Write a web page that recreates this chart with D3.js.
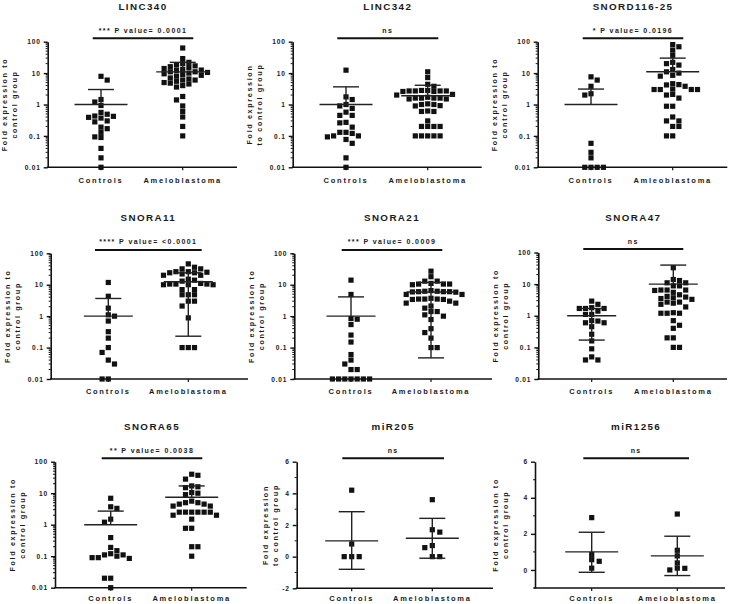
<!DOCTYPE html>
<html><head><meta charset="utf-8">
<script src="https://cdn.jsdelivr.net/npm/d3@7"></script>
<style>
body{margin:0;background:#fff}
text{font-family:"Liberation Sans",Arial,sans-serif;font-weight:bold;fill:#1a1a1a}
</style>
</head><body>
<svg id="c" width="736" height="604"></svg>
<script>
// ---------- DATA ----------
const CATS = ["Controls", "Ameloblastoma"];
const CATS_TYPO = ["Controls", "Amleoblastoma"];
const TITLES = ["LINC340","LINC342","SNORD116-25","SNORA11","SNORA21","SNORA47","SNORA65","miR205","miR1256"];
const PTEXT = ["*** P value= 0.0001","ns","* P value= 0.0196","**** P value= <0.0001","*** P value= 0.0009","ns","** P value= 0.0038","ns","ns"];
const LOG_TICKS = [0.01, 0.1, 1, 10, 100];
const LOG_TICK_LABELS = ["0.01","0.1","1","10","100"];
const MIR205_TICKS = [-2, 0, 2, 4, 6];
const MIR1256_TICKS = [0, 2, 4, 6];

const LINC340_ctrl = [7.9,6.0,1.44,1.2,0.93,0.56,0.49,0.43,0.42,0.39,0.37,0.30,0.28,0.19,0.17,0.13,0.093,0.089,0.04,0.02,0.01];
const LINC340_amelo = [63,29,22,20,18,17,16,15,14,13,12.5,12,11,11,10.5,10,9.5,9,8.5,8,7,6.5,6,6,5.5,5,4.8,4.5,4,3.6,1.8,1.4,0.9,0.6,0.4,0.2,0.1];
const LINC342_ctrl = [12.4,1.75,1.44,1.0,0.9,0.75,0.57,0.45,0.45,0.27,0.26,0.19,0.13,0.13,0.12,0.1,0.093,0.1,0.077,0.058,0.02,0.01];
const LINC342_amelo = [11,7.2,4.4,3.8,2.8,2.7,2.7,2.6,2.7,2.8,2.6,2.7,2.1,2.0,1.6,1.7,1.5,1.6,1.6,1.5,1.6,1.0,1.05,0.9,0.92,1.0,0.6,0.6,0.62,0.3,0.2,0.2,0.2,0.2,0.1,0.1,0.1,0.1,0.1];
const SNORD116_ctrl = [7.6,6.0,3.8,2.2,2.0,0.058,0.03,0.02,0.01,0.01,0.01,0.01];
const SNORD116_amelo = [81,69,54,37,22,20,18,13,11,10,8,8.5,4.3,3.8,4.2,4.6,3.0,3.0,3.0,3.0,3.1,2.1,2.0,1.6,0.88,0.88,0.4,0.3,0.3,0.2,0.2,0.1,0.1];
const SNORA11_ctrl = [11.8,4.3,1.8,1.1,1.0,0.7,0.32,0.2,0.1,0.07,0.04,0.03,0.01,0.01];
const SNORA11_amelo = [46,36,32,32,26,26,25,24,24,22,20,20,15,14,13,11,10.5,10.5,10,10,10.5,10,7,7,4.8,4.8,4.8,3.0,3.0,2.1,0.88,0.1,0.1,0.1];
const SNORA21_ctrl = [14,4.9,0.84,0.8,0.54,0.25,0.15,0.06,0.04,0.03,0.02,0.02,0.01,0.01,0.01,0.01,0.01,0.01,0.01];
const SNORA21_amelo = [27,18,13,13,10.5,10,10.5,11,10.5,6.2,6,5.8,6,5.9,6,6.2,6.5,4.9,4.9,3.5,3.4,3.0,3.4,3.5,3.5,3.7,2.6,2.6,1.8,2.1,1.4,1.4,1.0,1.1,0.78,0.4,0.3,0.2,0.1,0.1];
const SNORA47_ctrl = [2.9,2.3,1.8,1.7,1.7,1.7,1.4,1.1,1.1,0.7,0.68,0.6,0.6,0.45,0.26,0.16,0.09,0.05,0.04,0.04];
const SNORA47_amelo = [33,14,13,11,11,8.8,8.8,6.5,6.5,6.5,6.3,5.5,4.6,4.1,3.9,3.5,3.7,3.3,2.7,2.3,2.5,2.7,1.9,1.2,1.2,1.2,1.25,0.7,0.5,0.4,0.2,0.2,0.1,0.1];
const SNORA65_ctrl = [6.9,3.7,3.3,1.5,1.2,0.39,0.19,0.15,0.12,0.11,0.09,0.085,0.09,0.1,0.11,0.02,0.02,0.01];
const SNORA65_amelo = [37,40,28,15,17,16,10.5,10,9,5.6,5,4.5,5,4.5,3.9,3.9,2.5,2.5,2.5,2.5,2.5,2.5,2.0,2.0,1.5,0.77,0.77,0.2,0.2,0.1];
const MIR205_ctrl = [4.2,0.8,0,0,0];
const MIR205_amelo = [3.6,1.55,1.7,0.7,0.57,0,0];
const MIR1256_ctrl = [2.9,0.85,0.48,0.57,0.1];
const MIR1256_amelo = [3.1,1.09,0.78,0.39,0.09,0.0,0.1];

// mean / SD (upper, lower): [controls, ameloblastoma]; null = not drawn
const MEANS = [[1,10.9],[1,1.9],[1,11],[1,12.4],[1,5.9],[1,10],[1,7.4],[1.0,1.16],[1.0,0.78]];
const SD_HI = [[3.0,22],[3.65,4.1],[3.1,30],[3.65,24],[4.1,11.8],[1.7,40],[2.7,17],[2.84,2.42],[2.09,1.87]];
const SD_LO = [[null,null],[null,null],[null,null],[null,0.23],[null,0.047],[0.17,null],[null,null],[-0.8,-0.1],[-0.13,-0.31]];

const GROUPS = [
  [LINC340_ctrl, LINC340_amelo],[LINC342_ctrl, LINC342_amelo],[SNORD116_ctrl, SNORD116_amelo],
  [SNORA11_ctrl, SNORA11_amelo],[SNORA21_ctrl, SNORA21_amelo],[SNORA47_ctrl, SNORA47_amelo],
  [SNORA65_ctrl, SNORA65_amelo],[MIR205_ctrl, MIR205_amelo],[MIR1256_ctrl, MIR1256_amelo]
];

// ---------- LAYOUT ----------
const LAYOUT = [
 {ax:47.7, top:41.7, bot:167.3, xEnd:237, c:[101,182.7], bar:[92.7,193.3], lab:15.8},
 {ax:292.7, top:41.7, bot:167.3, xEnd:481.7, c:[346,427.7], bar:[337.3,438.3], lab:15.8},
 {ax:537.7, top:41.7, bot:167.3, xEnd:727.3, c:[591,672.7], bar:[582.7,683.3], lab:15.8},
 {ax:50.7, top:253.3, bot:379, xEnd:248, c:[108.3,188.3], bar:[95,201.7], lab:15.3},
 {ax:294.3, top:253.3, bot:379, xEnd:492, c:[351,431], bar:[341.7,442.3], lab:15.3},
 {ax:538.3, top:252.5, bot:379, xEnd:727, c:[591.7,673.3], bar:[583.3,683.3], lab:15.3},
 {ax:55, top:461.7, bot:587.7, xEnd:246.7, c:[110.7,191.7], bar:[101.7,202.3], lab:13.2},
 {ax:296.7, top:461.7, bot:588.3, xEnd:493, c:[351.7,432.3], bar:[342.3,444], lab:12.6},
 {ax:535, top:461.7, bot:588, xEnd:725, c:[591.7,677.3], bar:[583.3,689], lab:12.8}
];
const YLAB_A = ["Fold expression to","control group"];
const YLAB_B = ["Fold expression","to control group"];

const svg = d3.select("#c");
const INK = "#111";

function swarm(vals, y, d, h){
  const pts = vals.map(v => ({v, y:y(v)})).sort((a,b)=>a.y-b.y);
  const placed = [];
  let toggle = 1;
  pts.forEach(p=>{
    const free = o => placed.every(q => Math.abs(q.dx-o) >= d-0.01 || Math.abs(q.y-p.y) >= h);
    let dx = null;
    for(let k=0;k<40 && dx===null;k++){
      if(k===0){ if(free(0)) dx=0; continue; }
      const a = toggle*k*d, b = -toggle*k*d;
      if(free(a)) dx=a; else if(free(b)) dx=b;
    }
    if(dx!==0) toggle = -toggle;
    p.dx = dx;
    placed.push(p);
  });
  return placed;
}

TITLES.forEach((title,i)=>{
  const L = LAYOUT[i];
  const g = svg.append("g");
  const isLog = i < 7;
  let y;
  if(isLog) y = d3.scaleLog().domain([0.01,100]).range([L.bot,L.top]);
  else if(i===7) y = d3.scaleLinear().domain([-2,6]).range([L.bot,L.top]);
  else y = d3.scaleLinear().domain([-1,6]).range([L.bot,L.top]);
  const cats = i===2 ? CATS_TYPO : CATS;
  const x = d3.scalePoint().domain(cats).range(L.c);

  // y axis
  const ticks = isLog ? LOG_TICKS : (i===7 ? MIR205_TICKS : MIR1256_TICKS);
  const yAxis = d3.axisLeft(y).tickValues(ticks).tickSize(4).tickSizeOuter(0).tickPadding(3)
     .tickFormat((d,k)=> isLog ? LOG_TICK_LABELS[k] : String(d));
  const ya = g.append("g").attr("transform",`translate(${L.ax},0)`).call(yAxis);
  ya.select(".domain").attr("stroke",INK).attr("stroke-width",1.6);
  ya.selectAll(".tick line").attr("stroke",INK).attr("stroke-width",1.4);
  ya.selectAll(".tick text").style("font-size","6.6px").style("letter-spacing","0.8px")
     .attr("fill","#1a1a1a").style("font-family","'Liberation Sans',Arial,sans-serif").style("font-weight","bold");
  // minor ticks
  let minor = [];
  if(isLog){ [0.01,0.1,1,10].forEach(b=>{ for(let m=2;m<=9;m++) minor.push(b*m); }); }
  else { const dm = y.domain(); for(let v=Math.ceil(dm[0]); v<=dm[1]; v++) if(((v%2)+2)%2===1) minor.push(v); }
  g.append("g").selectAll("line").data(minor).join("line")
    .attr("x1",L.ax-2).attr("x2",L.ax).attr("y1",d=>y(d)).attr("y2",d=>y(d))
    .attr("stroke",INK).attr("stroke-width",1);

  // x axis
  g.append("line").attr("x1",L.ax-0.8).attr("x2",L.xEnd).attr("y1",L.bot).attr("y2",L.bot)
    .attr("stroke",INK).attr("stroke-width",1.6);
  g.append("g").selectAll("line").data(cats).join("line")
    .attr("x1",d=>x(d)).attr("x2",d=>x(d)).attr("y1",L.bot).attr("y2",L.bot+3)
    .attr("stroke",INK).attr("stroke-width",1.2);
  g.append("g").selectAll("text").data(cats).join("text")
    .attr("x",d=>x(d)).attr("y",L.bot+L.lab).attr("text-anchor","middle")
    .style("font-size","7.5px").style("letter-spacing","1.75px").text(d=>d);

  // y label
  const ylab = (i===1 || i===7) ? YLAB_B : YLAB_A;
  const yoff = i===7 ? [-31.7,-21.7] : (i===8 ? [-40,-30] : [-43,-33]);
  const cy = (L.top+L.bot)/2;
  ylab.forEach((t,k)=>{
    g.append("text").attr("transform",`translate(${L.ax+yoff[k]},${cy}) rotate(-90)`)
     .attr("text-anchor","middle").attr("dy","0.35em")
     .style("font-size","7.2px").style("letter-spacing","1.65px").text(t);
  });

  // title
  const mid = (L.bar[0]+L.bar[1])/2;
  g.append("text").attr("x",mid).attr("y",L.top-32).attr("text-anchor","middle")
    .style("font-size","9.8px").style("letter-spacing","1.4px").text(title);
  // significance
  g.append("line").attr("x1",L.bar[0]).attr("x2",L.bar[1]).attr("y1",L.top-3.4).attr("y2",L.top-3.4)
    .attr("stroke",INK).attr("stroke-width",2);
  g.append("text").attr("x",mid).attr("y",L.top-9).attr("text-anchor","middle")
    .style("font-size","7px").style("letter-spacing","1.4px").text(PTEXT[i]);

  // points
  const d = i>=7 ? 7.5 : 6.2;
  GROUPS[i].forEach((vals,gi)=>{
    const cx = x(cats[gi]);
    const pts = swarm(vals, y, d, 5);
    g.append("g").selectAll("rect").data(pts).join("rect")
      .attr("x",p=>cx+p.dx-2.6).attr("y",p=>p.y-2.6).attr("width",5.2).attr("height",5.2)
      .attr("fill",INK);
    // error bars
    const m = MEANS[i][gi], hi = SD_HI[i][gi], lo = SD_LO[i][gi];
    const eb = g.append("g").attr("stroke","#222").attr("stroke-width",1.4);
    const hw = i>=3 && i<6 ? 24.5 : 26.5;
    eb.append("line").attr("x1",cx-hw).attr("x2",cx+hw).attr("y1",y(m)).attr("y2",y(m));
    const yTop = y(hi), yBot = lo===null ? y(m) : y(lo);
    eb.append("line").attr("x1",cx).attr("x2",cx).attr("y1",yTop).attr("y2",yBot);
    eb.append("line").attr("x1",cx-13).attr("x2",cx+13).attr("y1",yTop).attr("y2",yTop);
    if(lo!==null) eb.append("line").attr("x1",cx-13).attr("x2",cx+13).attr("y1",y(lo)).attr("y2",y(lo));
  });
});
</script>
</body></html>
